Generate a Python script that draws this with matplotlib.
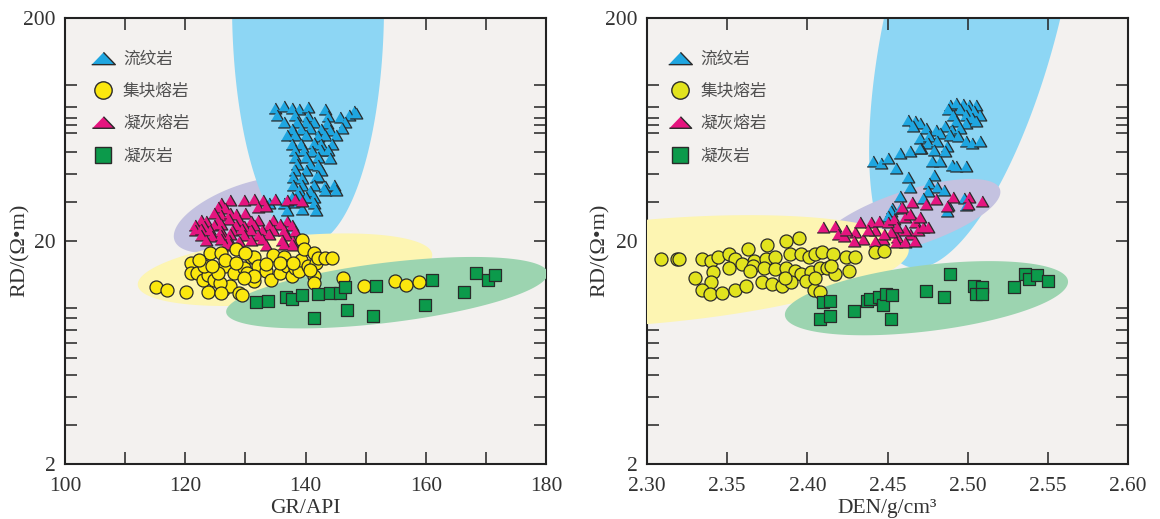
import numpy as np
import matplotlib
matplotlib.use("Agg")
import matplotlib.pyplot as plt
from matplotlib.lines import Line2D

# ---------------- data: left panel (GR vs RD) ----------------
rhy_gr = [134.9,136.4,137.7,138.9,140.4,143.3,148.0,
          135.2,138.3,140.4,143.8,145.7,147.2,148.4,
          136.4,138.6,140.1,141.4,143.5,146.6,
          137.7,139.2,140.7,142.6,144.1,146.0,
          137.0,138.3,140.1,142.0,143.2,145.0,
          137.7,139.2,141.4,142.6,144.4,
          138.3,139.8,141.0,142.6,143.8,
          138.3,140.1,142.0,144.1,
          138.6,140.7,142.0,
          138.3,140.1,142.6,
          138.0,139.5,141.7,142.0,
          138.0,139.5,141.4,143.2,144.7,
          138.9,140.7,143.2,145.0,
          137.7,138.9,140.1,141.4,
          134.0,136.4,138.3,141.4,
          137.0,139.5,141.7]
rhy_rd = [79.2,80.5,79.0,78.5,79.6,78.0,76.5,
          73.2,73.5,72.8,73.0,72.0,73.6,75.0,
          68.3,68.0,68.6,68.3,67.5,68.0,
          63.8,63.5,64.0,63.8,63.0,64.5,
          59.5,59.8,59.5,59.0,59.5,60.0,
          54.7,54.5,55.0,54.7,54.2,
          51.0,51.2,50.8,51.0,51.0,
          47.6,47.8,47.6,47.0,
          44.5,44.5,44.0,
          41.5,41.8,41.5,
          38.8,38.5,38.8,39.2,
          35.6,35.8,35.6,35.4,35.6,
          33.8,33.6,33.8,34.0,
          31.6,31.8,31.6,31.4,
          29.5,29.5,29.8,29.5,
          27.5,27.8,27.5]

tuf_gr = [126.0,127.5,129.7,131.5,133.0,134.9,137.0,138.3,139.5,
          125.4,126.6,132.1,133.4,
          124.7,126.0,127.5,128.4,130.0,
          122.6,123.5,125.4,127.2,129.0,130.9,132.1,134.6,137.0,
          121.7,123.2,124.7,126.0,128.4,129.7,131.5,134.0,135.8,137.7,
          121.7,122.6,124.1,126.0,127.8,129.4,130.9,132.7,134.6,136.4,138.3,
          122.6,124.4,126.0,127.5,129.7,132.1,134.0,136.7,
          123.5,126.0,127.2,129.0,130.9,132.7,136.1,138.0,
          126.6,127.5,133.4,136.4,138.0]
tuf_rd = [29.5,30.5,30.5,30.8,30.5,30.8,30.5,30.8,30.2,
          28.5,28.2,28.5,28.8,
          26.6,26.2,26.6,26.4,26.8,
          24.8,24.6,24.8,25.0,24.8,24.6,24.9,24.8,24.6,
          23.6,23.4,23.6,23.8,23.6,23.4,23.6,23.6,23.8,23.5,
          22.4,22.6,22.4,22.2,22.4,22.6,22.4,22.3,22.5,22.4,22.2,
          21.3,21.1,21.3,21.5,21.3,21.2,21.4,21.3,
          20.2,20.4,20.2,20.0,20.2,20.4,20.2,20.0,
          19.2,19.4,19.2,19.3,19.2]

agg_gr = [115.2,117.0,120.1,123.8,126.3,127.5,129.0,129.4,
          121.0,121.0,122.0,122.9,123.8,124.7,125.7,124.1,126.0,126.6,
          128.1,129.7,130.3,131.5,130.9,131.5,132.1,133.4,134.6,134.3,
          135.8,136.4,137.0,137.7,138.3,138.9,139.2,139.5,139.8,140.4,
          141.4,141.7,141.4,141.4,142.0,143.2,144.4,140.7,128.4,130.0,
          125.4,123.2,126.6,128.4,131.5,133.4,146.3,149.8,154.9,156.7,
          158.8,135.8,138.0,122.3,124.4,129.7,126.0]
agg_rd = [12.5,12.1,11.8,11.8,12.1,12.6,11.7,11.5,
          15.9,14.3,14.3,13.4,14.1,13.4,12.9,17.6,17.6,15.4,
          14.3,15.1,14.3,13.2,17.0,17.0,15.4,14.6,17.3,13.4,
          14.3,17.0,15.4,13.9,15.1,14.6,16.5,20.2,18.5,15.4,
          17.6,15.9,13.9,12.9,16.7,16.7,16.7,14.8,18.5,17.6,
          14.3,15.4,16.5,15.9,13.9,15.7,13.6,12.6,13.3,12.7,
          13.1,15.9,15.9,16.5,15.4,13.6,11.7]

tff_gr = [131.7,133.8,136.7,137.7,139.5,142.0,144.1,145.7,146.6,141.4,
          146.9,151.2,151.8,159.8,161.0,166.3,168.4,170.3,171.5]
tff_rd = [10.6,10.8,11.2,11.0,11.5,11.6,11.7,11.7,12.5,9.02,
          9.76,9.24,12.6,10.3,13.4,11.8,14.3,13.4,14.1]

# ---------------- data: right panel (DEN vs RD) ----------------
rhy_den = [2.489,2.493,2.497,2.501,2.505,2.488,2.495,2.500,2.504,2.508,
           2.491,2.499,2.503,2.493,2.499,2.505,2.463,2.467,2.470,2.466,
           2.474,2.480,2.486,2.490,2.495,2.470,2.476,2.483,2.489,2.494,
           2.499,2.503,2.508,2.475,2.481,2.487,2.471,2.479,2.486,2.458,
           2.464,2.470,2.441,2.446,2.450,2.455,2.463,2.464,2.478,2.483,
           2.490,2.493,2.499,2.479,2.476,2.481,2.475,2.485,2.458,2.453,
           2.452,2.458,2.487,2.472,2.498,2.488,2.499,2.450]
rhy_rd2 = [81.7,83.1,82.5,81.7,81.7,78.1,78.1,77.5,76.2,73.6,
           73.6,73.6,71.1,68.7,67.6,68.7,69.9,68.7,67.6,65.3,
           64.2,63.1,65.3,63.1,64.2,57.9,58.9,60.9,59.9,58.9,
           55.9,55.0,55.9,55.0,55.9,53.1,52.2,51.3,50.4,49.6,
           50.4,52.2,45.5,44.7,47.0,42.4,38.9,35.1,45.5,45.5,
           43.9,43.2,43.2,39.6,36.4,35.1,33.4,33.9,31.7,28.1,
           27.2,28.1,27.2,31.2,31.2,29.1,29.1,25.8]

tuf_den = [2.410,2.417,2.419,2.423,2.430,2.433,2.435,2.440,2.442,2.445,
           2.447,2.450,2.454,2.456,2.461,2.464,2.467,2.469,2.472,2.475,
           2.459,2.465,2.474,2.480,2.491,2.501,2.509,2.487,2.500,2.461,
           2.456,2.452,2.448,2.442,2.438,2.429,2.424,2.464,2.470,2.455,
           2.461,2.467]
tuf_rd2 = [23.0,23.4,21.5,21.1,21.9,24.3,20.4,24.3,22.3,24.7,
           20.4,24.3,25.1,20.8,25.5,21.5,24.3,22.3,23.0,23.0,
           28.3,29.8,29.3,30.9,31.4,31.4,30.3,28.8,29.3,22.3,
           23.0,21.9,21.5,20.1,22.3,20.1,22.3,26.4,25.5,19.7,
           19.7,20.1]

agg_den = [2.309,2.319,2.320,2.334,2.340,2.344,2.351,2.355,2.363,2.367,
           2.374,2.375,2.380,2.387,2.395,2.389,2.396,2.401,2.405,2.409,
           2.416,2.424,2.430,2.442,2.448,2.330,2.341,2.351,2.359,2.366,
           2.373,2.380,2.387,2.392,2.396,2.402,2.408,2.412,2.417,2.426,
           2.340,2.334,2.339,2.347,2.355,2.362,2.372,2.378,2.384,2.390,
           2.399,2.404,2.408,2.364,2.386,2.405,2.415]
agg_rd2 = [16.6,16.6,16.6,16.6,16.3,16.9,17.5,16.6,18.4,16.3,
           16.6,19.1,16.9,20.1,20.6,17.5,17.5,16.9,17.5,17.8,
           17.5,16.9,17.0,17.8,18.1,13.7,14.5,15.2,15.8,15.5,
           15.2,15.0,15.2,14.7,14.2,14.5,15.2,15.2,14.2,14.7,
           13.1,12.0,11.6,11.7,12.0,12.6,13.1,12.8,12.6,13.1,
           13.3,12.0,11.8,14.7,13.7,13.7,15.5]

tff_den = [2.408,2.414,2.410,2.414,2.429,2.437,2.439,2.445,2.447,2.449,
           2.453,2.452,2.474,2.485,2.489,2.504,2.505,2.509,2.509,2.529,
           2.536,2.538,2.543,2.550]
tff_rd2 = [8.94,9.25,10.6,10.8,9.74,10.8,11.0,11.2,10.3,11.6,
           11.4,8.94,11.9,11.2,14.2,12.6,11.6,12.4,11.6,12.5,
           14.2,13.5,14.1,13.3]

# field regions: centre (x, RD), conjugate semi-axes (dx, d log10 RD)
left_regions = [
    ("purple", 129.94, 26.2, (11.72, 0.1150), (1.706, -0.1264)),
    ("blue",   140.42, 229.4, (0.0, 1.0762), (12.64, 0.0)),
    ("yellow", 136.59, 14.87, (24.48, 0.0694), (0.574, -0.1472)),
    ("green",  153.55, 11.73, (26.74, 0.0885), (0.608, -0.1335)),
]
right_regions = [
    ("blue",   2.5046, 228.0, (0.04073, 1.1744), (0.05202, -0.0933)),
    ("purple", 2.4638, 25.2, (0.05635, 0.1317), (0.005396, -0.1194)),
    ("yellow", 2.3017, 14.57, (0.16155, 0.1016), (0.002825, -0.2323)),
    ("green",  2.4743, 11.08, (0.08826, 0.0779), (0.002508, -0.1469)),
]

labels = ["流纹岩", "集块熔岩", "凝灰熔岩", "凝灰岩"]
y_major = [2, 20, 200]
y_minor = [3, 4, 5, 6, 7, 8, 9, 10, 30, 40, 50, 61, 66.5, 71, 80, 100]
gr_major = [100, 120, 140, 160, 180]
gr_minor = [110, 130, 150, 170]
den_major = [2.30, 2.35, 2.40, 2.45, 2.50, 2.55, 2.60]

# ---------------- styles ----------------
region_col = {"blue": "#8dd6f4", "purple": "#c4c2e0",
              "yellow": "#fdf5b2", "green": "#9cd4b0"}
c_rhy = "#1fa6e0"
c_tuf = "#e5157f"
c_agg_l = "#fbe70e"
c_agg_r = "#e2e31e"
c_tff = "#0c9a4b"
edge = "#2a2a2a"
tri = [(-1, -0.87), (1, -0.87), (0, 0.87)]
tri_leg = [(-1, -0.52), (1, -0.52), (0, 0.52)]

serif = "Liberation Serif"
cjk = ["Noto Sans CJK SC", "DejaVu Sans"]
txtc = "#333333"

fig = plt.figure(figsize=(11.6, 5.19), dpi=100)
ax1 = fig.add_axes([65/1160, 55/519, 481/1160, 446/519])
ax2 = fig.add_axes([647/1160, 55/519, 481/1160, 446/519])


def region(ax, cx, cy, vmaj, vmin, color, z):
    t = np.linspace(0, 2*np.pi, 500)
    x = cx + vmaj[0]*np.cos(t) + vmin[0]*np.sin(t)
    ly = np.log10(cy) + vmaj[1]*np.cos(t) + vmin[1]*np.sin(t)
    ax.fill(x, 10**ly, color=color, lw=0, zorder=z)


def setup(ax, xlim, xmaj, xmin, xfmt, xlabel, agg_col, leg_x, ylab_x):
    ax.set_facecolor("#f3f1ef")
    ax.set_yscale("log")
    ax.set_xlim(*xlim)
    ax.set_ylim(2, 200)
    ax.set_yticks(y_major)
    ax.set_yticklabels([str(v) for v in y_major])
    ax.set_yticks(y_minor, minor=True)
    ax.yaxis.set_minor_formatter(plt.NullFormatter())
    ax.set_xticks(xmaj)
    ax.set_xticklabels([xfmt.format(v) for v in xmaj])
    ax.set_xticks(xmin, minor=True)
    for s in ax.spines.values():
        s.set_linewidth(1.5)
        s.set_color("#222222")
    ax.tick_params(which="both", direction="in", top=True, right=True,
                   length=8.5, width=1.1, color="#222222",
                   labelsize=15.5, labelcolor=txtc)
    ax.tick_params(axis="x", which="both", pad=9.5)
    ax.tick_params(axis="y", which="both", pad=7)
    for lab in ax.get_xticklabels() + ax.get_yticklabels():
        lab.set_fontfamily(serif)
    ax.set_xlabel(xlabel, fontsize=15.5, family=serif, color=txtc, labelpad=2)
    ax.set_ylabel("RD/(Ω•m)", fontsize=16, family=serif, color=txtc)
    ax.yaxis.set_label_coords(ylab_x, 0.48)
    handles = [
        Line2D([], [], ls="none", marker=tri_leg, ms=17, mfc=c_rhy, mec=edge, mew=1.0),
        Line2D([], [], ls="none", marker="o", ms=12.5, mfc=agg_col, mec=edge, mew=1.0),
        Line2D([], [], ls="none", marker=tri_leg, ms=16, mfc=c_tuf, mec=edge, mew=1.0),
        Line2D([], [], ls="none", marker="s", ms=11, mfc=c_tff, mec=edge, mew=1.0),
    ]
    leg = ax.legend(handles, labels, loc="upper left", bbox_to_anchor=(leg_x, 0.927),
                    frameon=False, handlelength=1.6, handletextpad=0.4,
                    labelspacing=0.92, borderpad=0, borderaxespad=0,
                    prop={"family": cjk, "size": 12})
    for t in leg.get_texts():
        t.set_color("#505050")
    leg.set_zorder(10)


# left panel
zl = {"purple": 1, "blue": 2, "yellow": 3, "green": 4}
for name, cx, cy, vmaj, vmin in left_regions:
    region(ax1, cx, cy, vmaj, vmin, region_col[name], zl[name])
ax1.scatter(rhy_gr, rhy_rd, marker=tri, s=82, c=c_rhy, edgecolors=edge, linewidths=0.9, zorder=5)
ax1.scatter(tuf_gr, tuf_rd, marker=tri, s=82, c=c_tuf, edgecolors=edge, linewidths=0.9, zorder=6)
ax1.scatter(agg_gr, agg_rd, marker="o", s=88, c=c_agg_l, edgecolors=edge, linewidths=0.9, zorder=7)
ax1.scatter(tff_gr, tff_rd, marker="s", s=66, c=c_tff, edgecolors=edge, linewidths=0.9, zorder=8)
setup(ax1, (100, 180), gr_major, gr_minor, "{:d}", "GR/API", c_agg_l, 0.051, -0.073)

# right panel
zr = {"blue": 1, "purple": 2, "yellow": 3, "green": 4}
for name, cx, cy, vmaj, vmin in right_regions:
    region(ax2, cx, cy, vmaj, vmin, region_col[name], zr[name])
ax2.scatter(rhy_den, rhy_rd2, marker=tri, s=82, c=c_rhy, edgecolors=edge, linewidths=0.9, zorder=5)
ax2.scatter(tuf_den, tuf_rd2, marker=tri, s=82, c=c_tuf, edgecolors=edge, linewidths=0.9, zorder=6)
ax2.scatter(agg_den, agg_rd2, marker="o", s=88, c=c_agg_r, edgecolors=edge, linewidths=0.9, zorder=7)
ax2.scatter(tff_den, tff_rd2, marker="s", s=66, c=c_tff, edgecolors=edge, linewidths=0.9, zorder=8)
setup(ax2, (2.30, 2.60), den_major, [], "{:.2f}", "DEN/g/cm³", c_agg_r, 0.041, -0.077)

fig.savefig("out.png", dpi=100, facecolor="white")
